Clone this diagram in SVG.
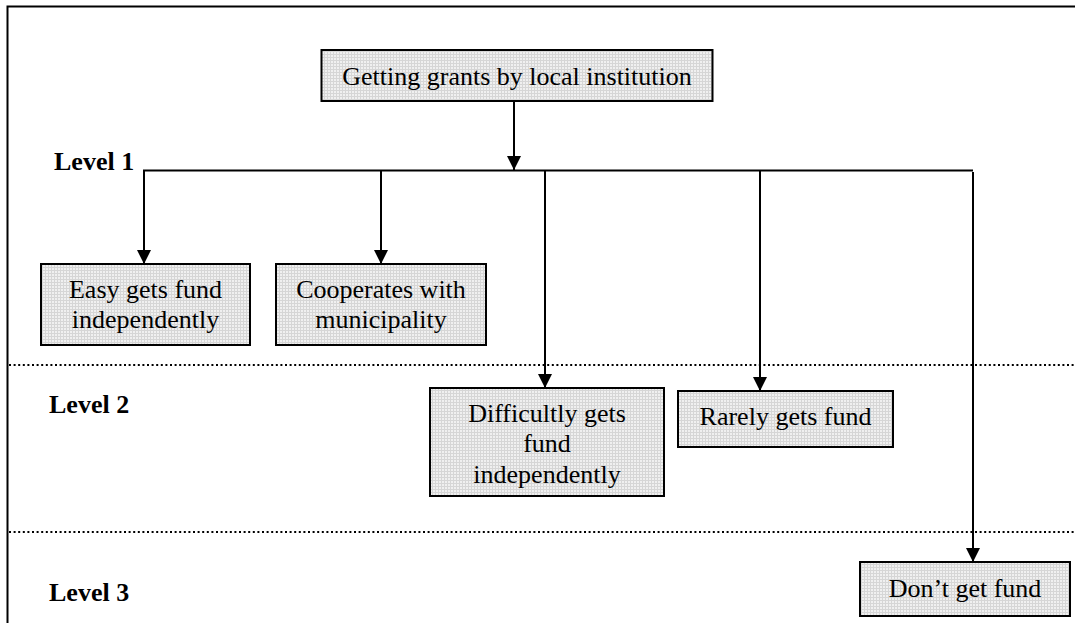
<svg xmlns="http://www.w3.org/2000/svg" width="1075" height="623" viewBox="0 0 1075 623">
  <defs>
    <!-- fine halftone texture used inside every box -->
    <pattern id="shade" width="3" height="3" patternUnits="userSpaceOnUse">
      <rect width="3" height="3" fill="#f0f0f0"/>
      <rect x="0" y="0" width="3" height="1" fill="#d6d6d6"/>
      <rect x="0" y="0" width="1" height="3" fill="#d6d6d6"/>
    </pattern>
    <marker id="arrow" viewBox="0 0 14 14" refX="14" refY="7" markerWidth="14" markerHeight="14" markerUnits="userSpaceOnUse" orient="auto">
      <path d="M0,0 L14,7 L0,14 z" fill="#000"/>
    </marker>
    <style>
      .box { fill: url(#shade); stroke: #000; stroke-width: 2; }
      .txt { font-family: "Liberation Serif", "Times New Roman", serif; font-size: 26px; fill: #000; text-anchor: middle; }
      .lvl { font-family: "Liberation Serif", "Times New Roman", serif; font-size: 26px; font-weight: bold; fill: #000; }
      .wire { stroke: #000; stroke-width: 2; fill: none; }
      .dots { stroke: #000; stroke-width: 2; stroke-dasharray: 2 2.6; fill: none; }
      .frame { stroke: #000; stroke-width: 2; fill: none; }
    </style>
  </defs>

  <rect width="1075" height="623" fill="#fff"/>

  <!-- outer frame (top and left edges) -->
  <path class="frame" d="M7.5,623 V6.5 H1075"/>

  <!-- level separators -->
  <line class="dots" x1="9" y1="365" x2="1075" y2="365"/>
  <line class="dots" x1="9" y1="532" x2="1075" y2="532"/>

  <!-- level labels -->
  <text class="lvl" x="54" y="170">Level 1</text>
  <text class="lvl" x="49" y="413">Level 2</text>
  <text class="lvl" x="49" y="601">Level 3</text>

  <g id="connectors">
    <line class="wire" x1="514" y1="101" x2="514" y2="170" marker-end="url(#arrow)"/>
    <line class="wire" x1="143" y1="170.5" x2="973" y2="170.5"/>
    <line class="wire" x1="144" y1="170" x2="144" y2="264" marker-end="url(#arrow)"/>
    <line class="wire" x1="381" y1="170" x2="381" y2="264" marker-end="url(#arrow)"/>
    <line class="wire" x1="545" y1="170" x2="545" y2="388" marker-end="url(#arrow)"/>
    <line class="wire" x1="760" y1="170" x2="760" y2="391" marker-end="url(#arrow)"/>
    <line class="wire" x1="973" y1="172" x2="973" y2="562" marker-end="url(#arrow)"/>
  </g>

  <g id="root">
    <rect class="box" x="321.5" y="50" width="391" height="51"/>
    <text class="txt" x="517" y="85">Getting grants by local institution</text>
  </g>

  <g id="easy">
    <rect class="box" x="41" y="264" width="209" height="81"/>
    <text class="txt" x="145.5" y="298">Easy gets fund</text>
    <text class="txt" x="145.5" y="328">independently</text>
  </g>

  <g id="cooperates">
    <rect class="box" x="276" y="264" width="210" height="81"/>
    <text class="txt" x="381" y="298">Cooperates with</text>
    <text class="txt" x="381" y="328">municipality</text>
  </g>

  <g id="difficultly">
    <rect class="box" x="430" y="388" width="234" height="108"/>
    <text class="txt" x="547" y="422">Difficultly gets</text>
    <text class="txt" x="547" y="452">fund</text>
    <text class="txt" x="547" y="483">independently</text>
  </g>

  <g id="rarely">
    <rect class="box" x="678" y="391" width="215" height="56"/>
    <text class="txt" x="785.5" y="425">Rarely gets fund</text>
  </g>

  <g id="dont">
    <rect class="box" x="860" y="562" width="210" height="54"/>
    <text class="txt" x="965" y="597">Don’t get fund</text>
  </g>
</svg>
